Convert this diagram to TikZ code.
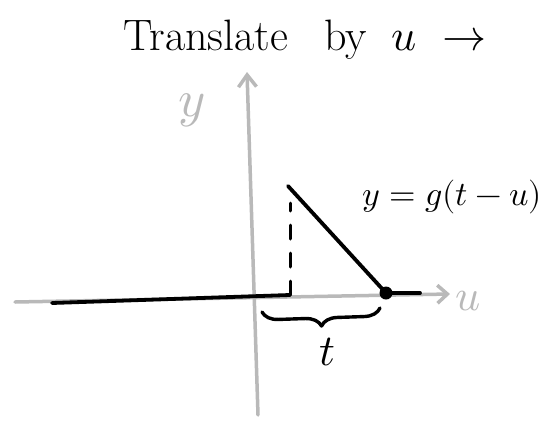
\documentclass[tikz,border=0pt]{standalone}
\usepackage{fontspec}
\usepackage{unicode-math}
\setmathfont{Latin Modern Math}
\usetikzlibrary{arrows.meta,decorations.pathreplacing}
\definecolor{axisgray}{RGB}{185,185,185}
\begin{document}
\begin{tikzpicture}[x=1pt,y=-1pt,
  axis/.style={draw=axisgray,line width=3.5pt,line cap=round},
  curve/.style={draw=black,line width=3.8pt,line cap=round,line join=round},
  graylbl/.style={text=axisgray,inner sep=0pt},
  blacklbl/.style={text=black,inner sep=0pt}]
\useasboundingbox (0,0) rectangle (552,421);
% coordinates
\coordinate (yb) at (258,415);
\coordinate (yt) at (247,72);
\coordinate (xl) at (15,302);
\coordinate (xr) at (450,294);
\coordinate (c1) at (52,303);
\coordinate (c2) at (290,295);
\coordinate (dtop) at (290,203);
\coordinate (top) at (288,186);
\coordinate (end) at (420,293);
\coordinate (bl) at (262,312);
\coordinate (br) at (380,308);
% axes
\draw[axis,-{Straight Barb[length=12pt,width=18pt]}] (yb) -- (yt);
\draw[axis,-{Straight Barb[length=10pt,width=18pt]}] (xl) -- (xr);
\node[graylbl] (ylbl) at (192,110) {\fontsize{52}{60}\selectfont$y$};
\node[graylbl] (ulbl) at (468,301) {\fontsize{44}{50}\selectfont$u$};
% function
\node[circle,fill=black,inner sep=0pt,minimum size=13pt] (dot) at (386,293) {};
\draw[curve] (c1) -- (c2);
\draw[curve,line width=3pt,dash pattern=on 14pt off 14pt] (c2) -- (dtop);
\draw[curve] (top) -- (dot.center);
\draw[curve] (dot.center) -- (end);
% brace
\draw[curve,line width=3.4pt,decorate,decoration={brace,amplitude=16pt}] (br) -- (bl);
% labels
\node[blacklbl] (tlbl) at (327,352) {\fontsize{44}{50}\selectfont$t$};
\node[blacklbl] (flbl) at (452,197) {\fontsize{34}{40}\selectfont$y=g(t-u)$};
\node[blacklbl] (title) at (305,40) {\fontsize{44}{52}\selectfont Translate\hspace{36pt}by\hspace{24pt}$u$\hspace{26pt}$\rightarrow$};
\end{tikzpicture}
\end{document}
